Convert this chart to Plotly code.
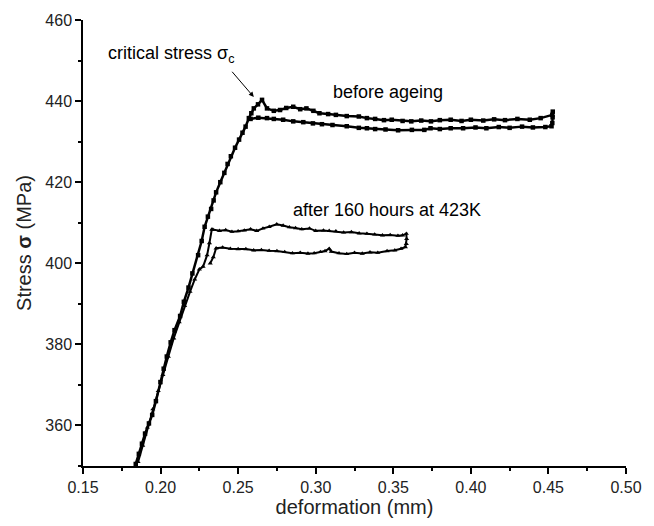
import plotly.graph_objects as go

# ---- data ----
before_x = [0.184, 0.186, 0.188, 0.190, 0.1925, 0.1946, 0.197, 0.1999, 0.202, 0.204, 0.2065, 0.209,
            0.2126, 0.215, 0.218, 0.2205, 0.2242, 0.2265, 0.2284, 0.2305, 0.2326, 0.2342, 0.2358,
            0.2385, 0.2411, 0.2432, 0.2453, 0.248, 0.2506, 0.2528, 0.2548, 0.2569, 0.2585, 0.2601,
            0.2628, 0.2654,
            0.2686, 0.2730, 0.2770, 0.2810, 0.2855, 0.2900, 0.2940, 0.2985, 0.3024, 0.3080, 0.3130,
            0.3200, 0.3278, 0.3330, 0.3383, 0.3440, 0.3490, 0.3560, 0.3616, 0.3680, 0.3743, 0.3800,
            0.3870, 0.3940, 0.4000, 0.4080, 0.4150, 0.4220, 0.4300, 0.4380, 0.4450, 0.4525,
            0.4528, 0.4527, 0.4525, 0.4520,
            0.4480, 0.4400, 0.4330, 0.4250, 0.4180, 0.4100, 0.4030, 0.3950, 0.3870, 0.3800, 0.3740,
            0.3700, 0.3620, 0.3531, 0.3450, 0.3383, 0.3330, 0.3278, 0.3200, 0.3108, 0.3040, 0.2982,
            0.2920, 0.2855, 0.2790, 0.2730, 0.2686, 0.2630, 0.2580]
before_y = [350.5, 353, 355.5, 358, 360.5, 362.6, 366, 370.7, 374, 377, 380.5, 383.5,
            387, 390.5, 394, 397.5, 402, 405.5, 409, 411.5, 413.4, 415.5, 417.5,
            420, 422.3, 424.5, 426.4, 428.5, 430.5, 432.2, 433.7, 435.8, 437, 438.2,
            439.2, 440.3,
            438.2, 437.6, 437.8, 438.3, 438.6, 438.0, 438.2, 437.6, 437.0, 436.8, 436.6,
            436.3, 436.2, 435.8, 435.6, 435.3, 435.4, 435.1, 435.0, 435.2, 435.0, 435.3,
            435.4, 435.1, 435.4, 435.2, 435.5, 435.3, 435.6, 435.4, 435.8, 436.6,
            437.4, 436.0, 434.6, 433.8,
            433.6, 433.5, 433.7, 433.4, 433.6, 433.3, 433.5, 433.3, 433.3, 433.1, 433.3,
            432.9, 432.9, 432.8, 433.0, 433.1, 433.3, 433.4, 433.8, 434.1, 434.3, 434.5,
            434.8, 435.0, 435.4, 435.6, 435.8, 435.9, 435.6]

after_x = [0.1855, 0.1885, 0.1915, 0.1950, 0.1985, 0.2015, 0.2050, 0.2085, 0.2120, 0.2155, 0.2190,
           0.2220, 0.2250, 0.2274, 0.2300, 0.2315, 0.2330,
           0.2337, 0.2380, 0.2420, 0.2460, 0.2500, 0.2540, 0.2580, 0.2620, 0.2660, 0.2700, 0.2749,
           0.2790, 0.2830, 0.2870, 0.2910, 0.2960, 0.3000, 0.3050, 0.3087, 0.3130, 0.3180, 0.3230,
           0.3280, 0.3330, 0.3380, 0.3430, 0.3480, 0.3530, 0.3560, 0.3584,
           0.3586, 0.3584, 0.3578,
           0.3550, 0.3510, 0.3460, 0.3400, 0.3350, 0.3300, 0.3250, 0.3200, 0.3150, 0.3100, 0.3087,
           0.3060, 0.3030, 0.2990, 0.2950, 0.2900, 0.2850, 0.2800, 0.2750, 0.2700, 0.2650, 0.2600,
           0.2550, 0.2500, 0.2450, 0.2400, 0.2358, 0.2340, 0.2320]
after_y = [351, 355, 359.5, 364, 368.5, 372.5, 377, 381.5, 385.5, 389.5, 393,
           396, 398.5, 399.2, 402, 405, 408.3,
           408.3, 408.0, 408.2, 407.8, 407.9, 408.1, 408.4, 408.0, 408.6, 409.0, 409.6,
           409.3, 408.9, 408.7, 408.4, 408.6, 408.0, 408.1, 408.0, 407.9, 407.6, 407.7,
           407.4, 407.3, 407.1, 406.9, 407.0, 406.8, 406.9, 407.3,
           406.0, 404.8, 404.0,
           403.6, 403.2, 403.0, 402.6, 402.7, 402.4, 402.6, 402.3, 402.5, 402.9, 403.6,
           403.0, 402.8, 402.5, 402.4, 402.6, 402.5, 402.8, 403.0, 403.1, 403.3, 403.2,
           403.5, 403.5, 403.6, 403.9, 403.7, 401.5, 400.0]

x_ticks = [0.15, 0.20, 0.25, 0.30, 0.35, 0.40, 0.45, 0.50]
y_ticks = [360, 380, 400, 420, 440, 460]

FONT = "Liberation Sans, Arial, sans-serif"

fig = go.Figure()
fig.add_trace(go.Scatter(
    x=before_x, y=before_y, mode="lines+markers", name="before ageing",
    line=dict(color="black", width=2.5),
    marker=dict(symbol="square", size=4.5, color="black"),
    showlegend=False))
fig.add_trace(go.Scatter(
    x=after_x, y=after_y, mode="lines+markers", name="after 160 hours at 423K",
    line=dict(color="black", width=2),
    marker=dict(symbol="triangle-up", size=4.5, color="black"),
    showlegend=False))

fig.add_annotation(x=0.1646, y=451.5, xref="x", yref="y", text="critical stress σ<sub>c</sub>",
                   showarrow=False, xanchor="left", yanchor="middle",
                   font=dict(family=FONT, size=18, color="black"))
fig.add_annotation(x=0.2601, y=441.0, ax=0.2453, ay=447.6, xref="x", yref="y",
                   axref="x", ayref="y", text="", showarrow=True,
                   arrowhead=2, arrowsize=1, arrowwidth=1, arrowcolor="black")
fig.add_annotation(x=0.3098, y=442.2, xref="x", yref="y", text="before ageing",
                   showarrow=False, xanchor="left", yanchor="middle",
                   font=dict(family=FONT, size=18, color="black"))
fig.add_annotation(x=0.2838, y=413.2, xref="x", yref="y", text="after 160 hours at 423K",
                   showarrow=False, xanchor="left", yanchor="middle",
                   font=dict(family=FONT, size=18, color="black"))

axis_common = dict(showline=True, linecolor="black", linewidth=1.5, showgrid=False, zeroline=False,
                   ticks="outside", ticklen=6, tickwidth=1.5, tickcolor="black",
                   tickfont=dict(family=FONT, size=16, color="#222"))
fig.update_xaxes(range=[0.15, 0.50], tickvals=x_ticks, ticktext=[f"{v:.2f}" for v in x_ticks],
                 minor=dict(dtick=0.025, tick0=0.15, ticklen=3, tickwidth=1.5, tickcolor="black", ticks="outside"),
                 title=dict(text="deformation (mm)", font=dict(family=FONT, size=20, color="#222"), standoff=4),
                 **axis_common)
fig.update_yaxes(range=[350, 460], tickvals=y_ticks, ticktext=[str(v) for v in y_ticks],
                 minor=dict(dtick=10, tick0=350, ticklen=3, tickwidth=1.5, tickcolor="black", ticks="outside"),
                 title=dict(text="Stress <b>σ</b> (MPa)", font=dict(family=FONT, size=20, color="#222"), standoff=8),
                 **axis_common)
fig.update_layout(width=654, height=526, margin=dict(l=83, r=19, t=17, b=59),
                  plot_bgcolor="white", paper_bgcolor="white", showlegend=False)

fig.write_html("out.html")
